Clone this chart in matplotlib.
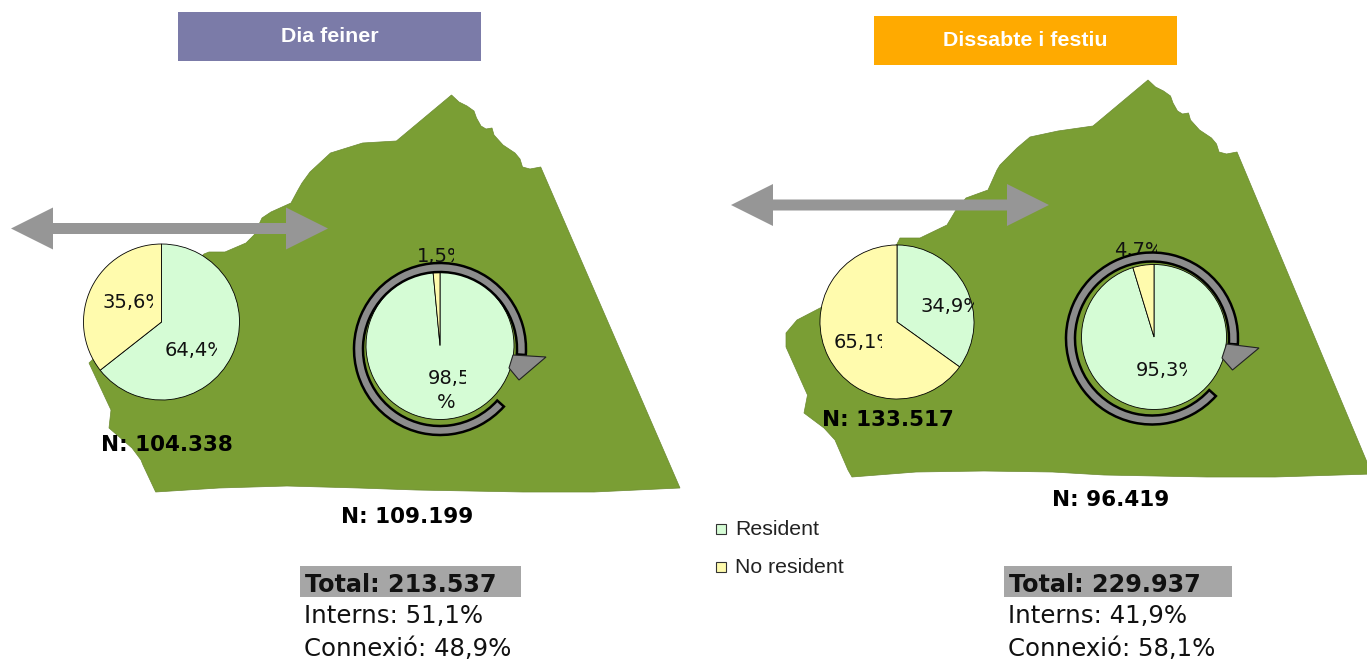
import matplotlib
matplotlib.use('Agg')
import matplotlib.pyplot as plt
from matplotlib import patches

# Pie values (resident, no resident)
weekday_connection = [64.4, 35.6]
weekday_internal = [98.5, 1.5]
weekend_connection = [34.9, 65.1]
weekend_internal = [95.3, 4.7]

titles = ['Dia feiner', 'Dissabte i festiu']
title_colors = ['#7B7BA8', '#FFAA00']
legend_labels = ['Resident', 'No resident']
slice_colors = ['#D5FCD5', '#FFFBAD']

n_labels = ['N: 104.338', 'N: 109.199', 'N: 133.517', 'N: 96.419']
total_labels = ['Total: 213.537', 'Total: 229.937']
interns_labels = ['Interns: 51,1%', 'Interns: 41,9%']
connexio_labels = ['Connexió: 48,9%', 'Connexió: 58,1%']

GREEN = '#7A9E34'
GREY = '#969696'
H = 661

# Map outlines, in pixels from the top left
map_left = [(451.5, 95), (459, 102), (467, 106), (474, 111), (476.5, 118), (481, 126), (486, 129),
            (492, 128), (494, 135), (503, 145), (515, 153), (520, 159), (522.5, 167), (530, 169),
            (540.7, 167), (680, 488), (594, 492), (523, 492), (416, 490), (358.6, 488), (287, 486),
            (219, 488), (155.7, 492), (143, 465), (141, 460), (132, 448), (109, 428), (111, 410),
            (89, 363), (204, 254), (209, 252), (225, 252), (246, 243), (254, 235), (262, 218),
            (271, 212), (291, 203), (298, 190), (302, 183), (310, 172), (330.5, 153), (362.6, 143),
            (396.4, 141)]
map_right = [(1148, 80), (1155.5, 87), (1163.5, 91), (1170.5, 96), (1173, 103), (1177.5, 111),
             (1182.5, 114), (1188.5, 113), (1190.5, 120), (1199.5, 130), (1211.5, 138), (1216.5, 144),
             (1219, 152), (1226.5, 154), (1237, 152), (1372, 474), (1275, 477),
             (1207, 477), (1104, 475), (1052.6, 472), (984, 471), (916, 472), (852, 477), (848, 470),
             (835, 440), (824, 428), (804, 413), (807.5, 395), (786, 347), (786, 333), (797, 320),
             (822, 307), (897, 244), (900, 238), (920, 238), (947, 225), (956, 210), (966, 198),
             (988, 190), (997, 170), (1000, 165), (1017, 148), (1030, 137), (1058, 131), (1093, 126)]


def flip(points):
    return [(x, H - y) for x, y in points]


fig = plt.figure(figsize=(13.67, 6.61), dpi=100)
ax = fig.add_axes([0, 0, 1, 1])


def draw_pie(values, cx, cy, r):
    wedges, _ = ax.pie(values, colors=slice_colors, startangle=90, counterclock=False,
                       center=(cx, H - cy), radius=r,
                       wedgeprops={'edgecolor': 'black', 'linewidth': 0.6})
    for w in wedges:
        w.set_zorder(3)


def pie_label(text, x, y, clip_right):
    t = ax.text(x, H - y, text, fontsize=14, family='DejaVu Sans', color='#111111',
                va='center', ha='left', zorder=4, clip_on=True)
    box = patches.Rectangle((x - 5, H - y - 14), clip_right - x + 5, 28, transform=ax.transData)
    t.set_clip_path(box)


def pct(v):
    return f'{v:.1f}%'.replace('.', ',')


def double_arrow(x0, x1, y):
    pts = [(x0, y), (x0 + 42, y - 21), (x0 + 42, y - 5.5), (x1 - 42, y - 5.5), (x1 - 42, y - 21),
           (x1, y), (x1 - 42, y + 21), (x1 - 42, y + 5.5), (x0 + 42, y + 5.5), (x0 + 42, y + 21)]
    ax.add_patch(patches.Polygon(flip(pts), facecolor=GREY, edgecolor='none', zorder=2))


def ring_arrow(cx, cy, head):
    ax.add_patch(patches.Wedge((cx, H - cy), 86, -4, 318, width=9, facecolor='#8C8C8C',
                               edgecolor='black', linewidth=1.8, zorder=5))
    ax.add_patch(patches.Polygon(flip(head), facecolor='#8C8C8C', edgecolor='#222222',
                                 linewidth=0.8, zorder=6))


# Maps
ax.add_patch(patches.Polygon(flip(map_left), facecolor=GREEN, edgecolor='#6B8A30', linewidth=0.5, zorder=1))
ax.add_patch(patches.Polygon(flip(map_right), facecolor=GREEN, edgecolor='#6B8A30', linewidth=0.5, zorder=1))

# Title boxes
for i, (x0, y0) in enumerate([(178, 12), (874, 16)]):
    ax.add_patch(patches.Rectangle((x0, H - y0 - 49), 303, 49, facecolor=title_colors[i], edgecolor='none'))
    ax.text(x0 + 151.5, H - y0 - 25, titles[i], color='white', fontsize=15.4, fontweight='bold',
            family='Liberation Sans', ha='center', va='center')

# Pies
draw_pie(weekday_connection, 161.5, 322, 78)
draw_pie(weekday_internal, 440, 345.5, 74)
draw_pie(weekend_connection, 897, 322, 77)
draw_pie(weekend_internal, 1154, 337, 72.5)

# Pie labels are cut off on the right as in the original
pie_label(pct(weekday_connection[0]), 165, 351, 217)
pie_label(pct(weekday_connection[1]), 102, 302, 153)
pie_label(pct(weekday_internal[0])[:-1], 428, 379, 466)
pie_label('%', 437, 402, 466)
pie_label(pct(weekday_internal[1]), 417, 256, 454)
pie_label(pct(weekend_connection[0]), 921, 306, 974)
pie_label(pct(weekend_connection[1]), 834, 343, 882)
pie_label(pct(weekend_internal[0]), 1136, 370, 1187)
pie_label(pct(weekend_internal[1]), 1114, 250, 1157)

# Arrows
double_arrow(11, 328, 228.5)
double_arrow(731, 1049, 205)
ring_arrow(440, 349, [(513, 355), (546, 357), (519, 380), (509, 368)])
ring_arrow(1152, 338.5, [(1226.5, 344), (1259, 348), (1232.5, 370), (1222, 358)])

# N labels
for label, x, y in zip(n_labels, [167, 407, 887.5, 1110.5], [445, 517, 420, 500]):
    ax.text(x, H - y, label, fontsize=15.5, fontweight='bold', family='DejaVu Sans', color='black',
            ha='center', va='center', zorder=7)

# Totals
for i, (x0, w) in enumerate([(300, 221), (1004, 228)]):
    ax.add_patch(patches.Rectangle((x0, H - 597), w, 31, facecolor='#A6A6A6', edgecolor='none'))
    ax.text(x0 + 5, H - 585, total_labels[i], fontsize=17.2, fontweight='bold', family='DejaVu Sans',
            color='#111111', va='center')
    ax.text(x0 + 4, H - 616, interns_labels[i], fontsize=17.6, family='DejaVu Sans', color='#111111', va='center')
    ax.text(x0 + 4, H - 649, connexio_labels[i], fontsize=17.6, family='DejaVu Sans', color='#111111', va='center')

# Legend
for label, col, y in zip(legend_labels, slice_colors, [529, 567]):
    ax.add_patch(patches.Rectangle((716, H - y - 5), 10, 10, facecolor=col, edgecolor='#333333', linewidth=0.8))
    ax.text(735, H - y - 0.5, label, fontsize=15.3, family='Liberation Sans', color='#222222', va='center')

ax.set_xlim(0, 1367)
ax.set_ylim(0, 661)
ax.set_aspect('auto')
ax.axis('off')
fig.savefig('out.png', dpi=100)
